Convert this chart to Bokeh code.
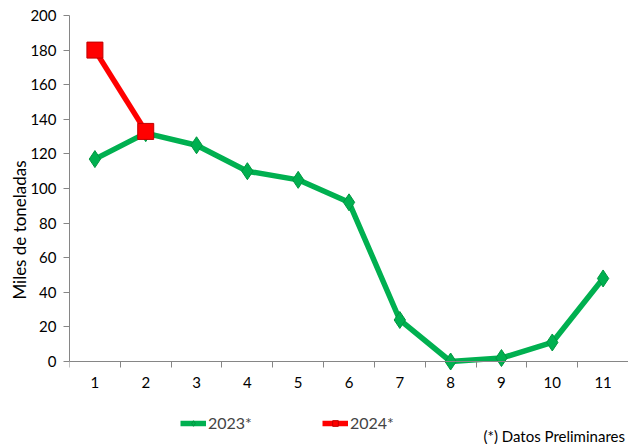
from bokeh.plotting import figure
from bokeh.models import FixedTicker, Legend, LegendItem, Label, Range1d
from bokeh.embed import file_html
from bokeh.resources import INLINE

months = [1, 2, 3, 4, 5, 6, 7, 8, 9, 10, 11]
v2023 = [117, 132, 125, 110, 105, 92, 24, 0, 2, 11, 48]
months_2024 = [1, 2]
v2024 = [180, 133]
y_ticks = [0, 20, 40, 60, 80, 100, 120, 140, 160, 180, 200]

FONT = "Lato"
GREEN = "#00B050"
RED = "#FF0000"
AX = "#868686"

H = 444
TOP = 15
LEFT = 69
ZERO_PX = 361  # page y of value 0
PX_PER_UNIT = (ZERO_PX - TOP) / 200.0
Y_START = -(H - ZERO_PX) / PX_PER_UNIT

p = figure(width=628, height=H, output_backend="svg", toolbar_location=None,
           x_range=Range1d(0.5, 11.5), y_range=Range1d(Y_START, 200),
           min_border_left=LEFT, min_border_right=0, min_border_top=TOP, min_border_bottom=0)
p.outline_line_color = None
p.grid.grid_line_color = None

p.xaxis.fixed_location = 0
p.xaxis.ticker = FixedTicker(ticks=months, minor_ticks=[0.5 + i for i in range(12)])
p.xaxis.major_tick_line_color = None
p.xaxis.minor_tick_line_color = AX
p.xaxis.minor_tick_out = 6
p.xaxis.minor_tick_in = 0
p.xaxis.axis_line_color = AX
p.xaxis.major_label_text_font = FONT
p.xaxis.major_label_text_font_size = "15px"
p.xaxis.major_label_text_color = "#000000"
p.xaxis.major_label_standoff = 9

p.yaxis.bounds = (0, 200)
p.yaxis.ticker = FixedTicker(ticks=y_ticks)
p.yaxis.minor_tick_line_color = None
p.yaxis.major_tick_line_color = AX
p.yaxis.major_tick_out = 6
p.yaxis.major_tick_in = 0
p.yaxis.axis_line_color = AX
p.yaxis.major_label_text_font = FONT
p.yaxis.major_label_text_font_size = "15px"
p.yaxis.major_label_text_color = "#000000"
p.yaxis.major_label_standoff = 7
p.yaxis.axis_label = "Miles de toneladas"
p.yaxis.axis_label_text_font = FONT
p.yaxis.axis_label_text_font_size = "17px"
p.yaxis.axis_label_text_font_style = "normal"
p.yaxis.axis_label_text_color = "#000000"
p.yaxis.axis_label_standoff = -3

l1 = p.line(months, v2023, line_color=GREEN, line_width=5.5)
m1 = p.scatter(months, v2023, marker="diamond", size=17, fill_color=GREEN, line_color="#00963F", line_width=1)
l2 = p.line(months_2024, v2024, line_color=RED, line_width=5.5)
m2 = p.scatter(months_2024, v2024, marker="square", size=16, fill_color=RED, line_color="#C00000", line_width=1)

legend = Legend(items=[LegendItem(label="2023*", renderers=[l1, m1]),
                       LegendItem(label="2024*", renderers=[l2, m2])],
                orientation="horizontal", location=(111, 12),
                label_text_font=FONT, label_text_font_size="16px",
                glyph_width=26, glyph_height=14, label_standoff=2, spacing=70,
                border_line_color=None, background_fill_alpha=0, padding=0, margin=0)
p.add_layout(legend, "center")

note = Label(x=11.43, y=-(435 - ZERO_PX) / PX_PER_UNIT, text="(*) Datos Preliminares",
             text_font=FONT, text_font_size="15px", text_align="right",
             text_baseline="middle", text_color="#000000")
p.add_layout(note)

open("out.html", "w").write(file_html(p, INLINE))
